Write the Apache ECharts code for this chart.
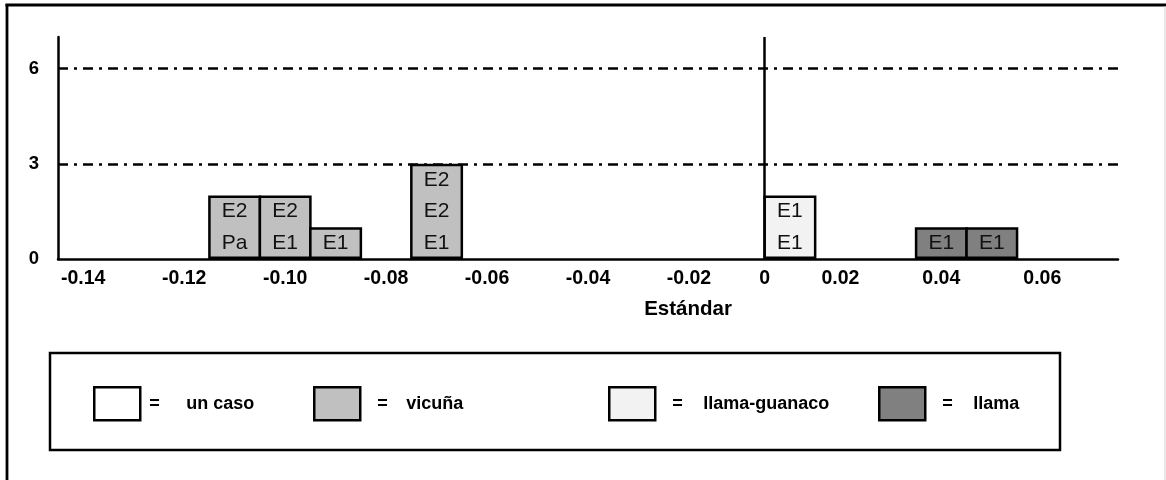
<!DOCTYPE html>
<html>
<head>
<meta charset="utf-8">
<script src="https://cdn.jsdelivr.net/npm/echarts@6/dist/echarts.min.js"></script>
<style>
html,body{margin:0;padding:0;background:#fff;}
#chart{width:1166px;height:480px;}
</style>
</head>
<body>
<div id="chart"></div>
<script>
// ---- data ----
const categories = ['-0.14','-0.13','-0.12','-0.11','-0.10','-0.09','-0.08','-0.07','-0.06','-0.05','-0.04','-0.03','-0.02','-0.01','0.01','0.02','0.03','0.04','0.05','0.06','0.07'];
const xTickLabels = ['-0.14','-0.12','-0.10','-0.08','-0.06','-0.04','-0.02','0.02','0.04','0.06'];
const zeroLabel = '0';
const firstPositiveBin = '0.01';
const yTickLabels = [0, 3, 6];
const yMax = 7;
const refLines = [3, 6];
const axisName = 'Estándar';

const vicunaBins = ['-0.11','-0.10','-0.09','-0.07'];
const vicunaCounts = [2, 2, 1, 3];
const vicunaCodes = [['E2','Pa'],['E2','E1'],['E1'],['E2','E2','E1']];

const guanacoBins = ['0.01'];
const guanacoCounts = [2];
const guanacoCodes = [['E1','E1']];

const llamaBins = ['0.04','0.05'];
const llamaCounts = [1, 1];
const llamaCodes = [['E1'],['E1']];

const legendNames = ['un caso','vicuña','llama-guanaco','llama'];

// ---- styles ----
const FONT = "'Liberation Sans', Arial, sans-serif";
const colors = {'un caso':'#ffffff','vicuña':'#c0c0c0','llama-guanaco':'#f2f2f2','llama':'#808080'};
const legendLeft = [93, 313, 608, 878];
const legendEqPad = [4, 12, 12, 12];
const legendEqWidth = [37, 29, 31, 31];

const zeroIdx = categories.indexOf(firstPositiveBin);
const chart = echarts.init(document.getElementById('chart'));

function barSeries(name, bins, counts, codes) {
  return {
    name: name, type: 'bar', xAxisIndex: 0, yAxisIndex: 0,
    barWidth: '105%', barGap: '-100%', barCategoryGap: '0%',
    data: bins.map((b, i) => [b, counts[i]]),
    itemStyle: {color: colors[name], borderColor: '#000', borderWidth: 2.5},
    label: {
      show: true, position: 'inside', color: '#111',
      fontFamily: FONT, fontSize: 21, lineHeight: 31.7,
      formatter: p => codes[p.dataIndex].join('\n')
    },
    emphasis: {disabled: true}, silent: true
  };
}

const series = [
  {name: 'un caso', type: 'bar', data: [], barWidth: '105%', barGap: '-100%', itemStyle: {color: colors['un caso']}},
  barSeries('vicuña', vicunaBins, vicunaCounts, vicunaCodes),
  barSeries('llama-guanaco', guanacoBins, guanacoCounts, guanacoCodes),
  barSeries('llama', llamaBins, llamaCounts, llamaCodes)
];
series[1].markLine = {
  symbol: 'none', silent: true, label: {show: false},
  lineStyle: {color: '#000', width: 2.5, type: [10, 6, 3, 6]},
  data: refLines.map(v => ({yAxis: v}))
};
series.push({
  name: 'zero', type: 'line', xAxisIndex: 1, yAxisIndex: 0, data: [],
  markLine: {
    symbol: 'none', silent: true, label: {show: false},
    lineStyle: {color: '#000', width: 2.5, type: 'solid'},
    data: [{xAxis: 0}]
  }
});

const legends = legendNames.map((n, i) => ({
  data: [n], left: legendLeft[i], top: 386, padding: 0,
  icon: 'rect', itemWidth: 46, itemHeight: 33, itemGap: 0,
  selectedMode: false,
  itemStyle: {borderColor: '#000', borderWidth: 2.5},
  formatter: name => '{eq|=}{nm|' + name + '}',
  textStyle: {
    fontFamily: FONT, fontSize: 18, fontWeight: 'bold', color: '#000',
    rich: {
      eq: {fontFamily: FONT, fontSize: 18, fontWeight: 'bold', color: '#000', width: legendEqWidth[i], padding: [0, 0, 0, legendEqPad[i]]},
      nm: {fontFamily: FONT, fontSize: 18, fontWeight: 'bold', color: '#000'}
    }
  }
}));

chart.setOption({
  animation: false,
  backgroundColor: '#fff',
  grid: {left: 58, right: 48, top: 37, bottom: 221, containLabel: false},
  xAxis: [
    {
      type: 'category', data: categories, boundaryGap: true, position: 'bottom',
      axisLine: {show: true, onZero: false, lineStyle: {color: '#000', width: 2.5}},
      axisTick: {show: false},
      splitLine: {show: false},
      axisLabel: {
        interval: 0, margin: 10, color: '#000', fontFamily: FONT, fontSize: 19.5, fontWeight: 'bold',
        formatter: v => xTickLabels.includes(v) ? v : ''
      },
      name: axisName, nameLocation: 'middle', nameGap: 40,
      nameTextStyle: {fontFamily: FONT, fontSize: 20.5, fontWeight: 'bold', color: '#000', padding: [0, 0, 0, 200]}
    },
    {
      type: 'value', position: 'bottom', min: -zeroIdx, max: categories.length - zeroIdx, interval: 1,
      axisLine: {show: false}, axisTick: {show: false}, splitLine: {show: false},
      axisLabel: {
        margin: 10, color: '#000', fontFamily: FONT, fontSize: 19.5, fontWeight: 'bold',
        showMinLabel: true, showMaxLabel: true,
        formatter: v => v === 0 ? zeroLabel : ''
      }
    }
  ],
  yAxis: {
    type: 'value', min: 0, max: yMax, interval: 3,
    axisLine: {show: true, onZero: false, lineStyle: {color: '#000', width: 2.5}},
    axisTick: {show: false},
    splitLine: {show: false},
    axisLabel: {
      margin: 19, color: '#000', fontFamily: FONT, fontSize: 18.5, fontWeight: 'bold',
      formatter: v => yTickLabels.includes(v) ? String(v) : ''
    }
  },
  legend: legends,
  series: series,
  graphic: [
    {type: 'rect', shape: {x: 50, y: 353, width: 1010, height: 97}, style: {fill: 'none', stroke: '#000', lineWidth: 2.5}, silent: true},
    {type: 'line', shape: {x1: 5.5, y1: 5, x2: 1166, y2: 5}, style: {stroke: '#000', lineWidth: 2.8}, silent: true},
    {type: 'line', shape: {x1: 7, y1: 4, x2: 7, y2: 480}, style: {stroke: '#000', lineWidth: 2.8}, silent: true},
    {type: 'line', shape: {x1: 1165, y1: 6, x2: 1165, y2: 480}, style: {stroke: '#d0d0d0', lineWidth: 1}, silent: true}
  ]
});
</script>
</body>
</html>
